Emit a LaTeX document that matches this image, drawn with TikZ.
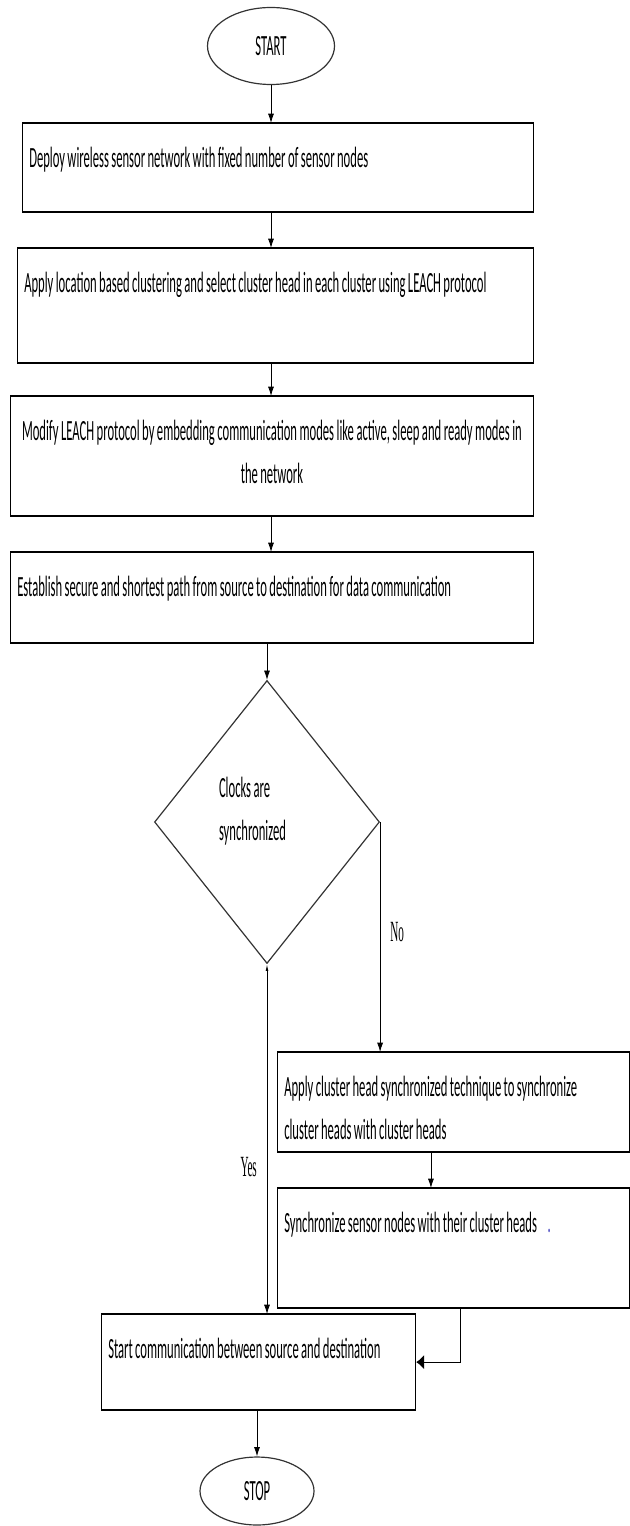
\documentclass[tikz,border=0pt]{standalone}
\usepackage{fontspec}
\setmainfont{Carlito}[FakeStretch=0.43]
\newfontfamily\lblfont{Liberation Serif}[FakeStretch=0.38]
\usetikzlibrary{shapes.geometric,arrows.meta}

\begin{document}
\fontsize{22pt}{32pt}\selectfont
\hyphenpenalty=10000 \exhyphenpenalty=10000
\begin{tikzpicture}[x=0.75pt,y=-0.75pt,
	tight/.style={execute at begin node={\spaceskip=1.8pt plus 1pt minus 0.5pt\relax}},
	stepbox/.style={draw, rectangle, tight, line width=0.9pt, anchor=north west, inner xsep=5pt, inner ysep=0pt, text height=33pt, align=left},
	term/.style={draw=black!80, ellipse, line width=0.9pt, inner sep=0pt},
	lbl/.style={font=\lblfont\fontsize{22pt}{26pt}\selectfont},
	arr/.style={-{Latex[length=7pt,width=4.5pt]}, line width=0.6pt}]
\useasboundingbox (0,0) rectangle (630,1526);

\node [term, minimum width=95.25pt, minimum height=57.75pt] (start) at (271,46) {START};
\node [stepbox, text width=373pt, text depth=33pt] (deploy) at (22,123)
	{Deploy wireless sensor network with fixed number of sensor nodes};
\node [stepbox, text width=377pt, text depth=52.5pt] (leach) at (17,248)
	{Apply location based clustering and select cluster head in each cluster using LEACH protocol};
\node [stepbox, align=center, text width=382pt, text depth=56.25pt] (modify) at (10,396)
	{Modify LEACH protocol by embedding communication modes like active, sleep and ready modes in\\the\hspace{1.8pt}network};
\node [stepbox, text width=382pt, text depth=34.5pt] (path) at (10,552)
	{Establish secure and shortest path from source to destination for data communication};
\node [draw=black!80, diamond, tight, line width=0.9pt, minimum width=168.75pt, minimum height=212.25pt,
	inner sep=0pt, text width=72pt, align=left, text depth=52pt] (clk) at (267,822)
	{Clocks are\\synchronized};
\node [stepbox, text width=254pt, text depth=41.25pt] (sync) at (277,1052)
	{Apply cluster head synchronized technique to synchronize\\cluster heads with cluster heads};
\node [stepbox, text width=254pt, text depth=56.25pt] (nodes) at (277,1188)
	{Synchronize sensor nodes with their cluster heads\hspace{8pt}{\color{blue!50!gray}.}};
\node [stepbox, text width=225.5pt, text depth=38.25pt] (comm) at (101,1314)
	{Start communication between source and destination};
\node [term, minimum width=85.5pt, minimum height=51pt] (stop) at (257,1491) {STOP};

% heavier top and bottom edges
\foreach \b in {deploy,leach,modify,path,sync,nodes,comm}
	\draw [line width=1.6pt] (\b.north west) -- (\b.north east) (\b.south west) -- (\b.south east);

\draw [arr] (start) -- (start |- deploy.north);
\draw [arr] (deploy.south -| start) -- (leach.north -| start);
\draw [arr] (leach.south -| start) -- (modify.north -| start);
\draw [arr] (modify.south -| start) -- (path.north -| start);
\draw [arr] (path.south -| clk) -- (clk.north);
\draw [arr] (clk.east) -- (clk.east |- sync.north) node [lbl, pos=0.48, right] {No};
\draw [{Latex[length=5pt,width=2pt]}-{Latex[length=7pt,width=4.5pt]}, line width=0.6pt]
	(clk.south) -- (clk.south |- comm.north) node [lbl, pos=0.58, left] {Yes};
\draw [arr] ([xshift=-17pt]sync.south) -- ([xshift=-17pt]nodes.north);
\draw [-{Latex[length=6pt,width=11pt]}, line width=0.9pt] ([xshift=5pt]nodes.south) |- (comm.east);
\draw [arr] (comm.south -| stop) -- (stop.north);
\end{tikzpicture}
\end{document}
